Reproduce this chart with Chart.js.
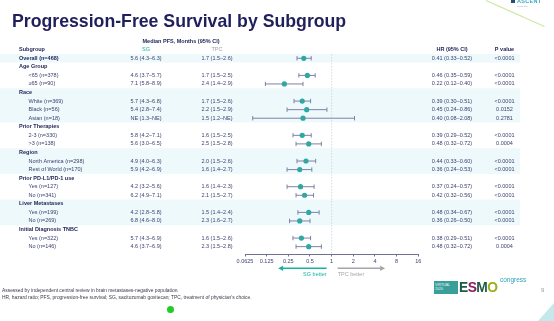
<!DOCTYPE html>
<html>
<head>
<meta charset="utf-8">
<script src="https://cdn.jsdelivr.net/npm/chart.js@4.4.1/dist/chart.umd.min.js"></script>
<style>
  html, body { margin: 0; padding: 0; background: #fff; }
  body { width: 554px; height: 321px; position: relative; overflow: hidden; font-family: "Liberation Sans", Arial, sans-serif; }
  #chart { position: absolute; left: 0; top: 0; }
  .title { position: absolute; left: 12px; top: 11.5px; font-size: 17.7px; line-height: 18px; font-weight: bold; color: #1f1f5c; white-space: nowrap; }
  .foot { position: absolute; left: 2px; font-size: 4.9px; line-height: 6px; color: #3a3a4a; white-space: nowrap; }
  .pagenum { position: absolute; left: 541px; top: 287px; font-size: 6px; color: #9a9a9a; }
  .corner { position: absolute; left: 538px; top: 303px; width: 16px; height: 18px; background: #c5e8ec; clip-path: polygon(100% 0, 100% 100%, 0 100%); }
  .dot { position: absolute; left: 166.5px; top: 305.5px; width: 7px; height: 7px; border-radius: 50%; background: #22cc22; }
  .esmo { position: absolute; left: 434px; top: 280px; height: 14px; }
  .esmo .virt { position: absolute; left: 0; top: 1px; width: 24px; height: 13px; background: #3a9e9a; color: #e8f6f4; font-size: 3.6px; line-height: 4px; padding: 2px 1px; box-sizing: border-box; }
  .esmo .word { position: absolute; left: 25px; top: -1px; font-size: 15px; line-height: 16px; font-weight: bold; letter-spacing: -0.6px; transform: scaleX(0.92); transform-origin: left; white-space: nowrap; }
  .esmo .cong { position: absolute; left: 66px; top: -4px; font-size: 6.5px; color: #2fa3b6; white-space: nowrap; }
  .ascent { position: absolute; left: 517px; top: -2px; font-size: 5.5px; font-weight: bold; color: #3aa6ba; letter-spacing: 0.3px; }
  .ascent-sub { position: absolute; left: 517px; top: 5px; font-size: 2.2px; color: #9aa; }
  .ascent-mark { position: absolute; left: 511px; top: 0; width: 4px; height: 3px; background: #1f4f7a; }
  .swoosh { position: absolute; left: 486px; top: 0; width: 64px; height: 1px; background: #c9e6a0; transform: rotate(24deg); transform-origin: left; }
</style>
</head>
<body>
<canvas id="chart" width="554" height="321"></canvas>
<div class="title">Progression-Free Survival by Subgroup</div>
<div class="foot" style="top:288px">Assessed by independent central review in brain metastases-negative population.</div>
<div class="foot" style="top:295px">HR, hazard ratio; PFS, progression-free survival; SG, sacituzumab govitecan; TPC, treatment of physician’s choice.</div>
<div class="pagenum">9</div>
<div class="corner"></div>
<div class="dot"></div>
<div class="swoosh"></div>
<div class="ascent-mark"></div>
<div class="ascent">ASCENT</div>
<div class="ascent-sub">clinical trial</div>
<div class="esmo">
  <div class="virt">VIRTUAL<br>2020</div>
  <div class="word"><span style="color:#1e5b45">E</span><span style="color:#8c1d5e">S</span><span style="color:#1e5b45">M</span><span style="color:#9fae1e">O</span></div>
  <div class="cong">congress</div>
</div>
<script>
// ---- data ----
const rowLabels = [
  'Overall (n=468)', 'Age Group', '<65 (n=378)', '≥65 (n=90)',
  'Race', 'White (n=369)', 'Black (n=56)', 'Asian (n=18)',
  'Prior Therapies', '2-3 (n=330)', '>3 (n=138)',
  'Region', 'North America (n=298)', 'Rest of World (n=170)',
  'Prior PD-L1/PD-1 use', 'Yes (n=127)', 'No (n=341)',
  'Liver Metastases', 'Yes (n=199)', 'No (n=269)',
  'Initial Diagnosis TNBC', 'Yes (n=322)', 'No (n=146)'
];
const rowKind = ['total', 'group', 'sub', 'sub', 'group', 'sub', 'sub', 'sub', 'group', 'sub', 'sub',
  'group', 'sub', 'sub', 'group', 'sub', 'sub', 'group', 'sub', 'sub', 'group', 'sub', 'sub'];

const sgMedian = ['5.6 (4.3–6.3)', '', '4.6 (3.7–5.7)', '7.1 (5.8–8.9)', '', '5.7 (4.3–6.8)', '5.4 (2.8–7.4)', 'NE (1.3–NE)',
  '', '5.8 (4.2–7.1)', '5.6 (3.0–6.5)', '', '4.9 (4.0–6.3)', '5.9 (4.2–6.9)', '', '4.2 (3.2–5.6)', '6.2 (4.9–7.1)',
  '', '4.2 (2.8–5.8)', '6.8 (4.6–8.0)', '', '5.7 (4.3–6.9)', '4.6 (3.7–6.9)'];
const tpcMedian = ['1.7 (1.5–2.6)', '', '1.7 (1.5–2.5)', '2.4 (1.4–2.9)', '', '1.7 (1.5–2.6)', '2.2 (1.5–2.9)', '1.5 (1.2–NE)',
  '', '1.6 (1.5–2.5)', '2.5 (1.5–2.8)', '', '2.0 (1.5–2.6)', '1.6 (1.4–2.7)', '', '1.6 (1.4–2.3)', '2.1 (1.5–2.7)',
  '', '1.5 (1.4–2.4)', '2.3 (1.6–2.7)', '', '1.6 (1.5–2.6)', '2.3 (1.5–2.8)'];

const hr     = [0.41, null, 0.46, 0.22, null, 0.39, 0.45, 0.40, null, 0.39, 0.48, null, 0.44, 0.36, null, 0.37, 0.42, null, 0.48, 0.36, null, 0.38, 0.48];
const hrLow  = [0.33, null, 0.35, 0.12, null, 0.30, 0.24, 0.08, null, 0.29, 0.32, null, 0.33, 0.24, null, 0.24, 0.32, null, 0.34, 0.26, null, 0.29, 0.32];
const hrHigh = [0.52, null, 0.59, 0.40, null, 0.51, 0.86, 2.08, null, 0.52, 0.72, null, 0.60, 0.53, null, 0.57, 0.56, null, 0.67, 0.50, null, 0.51, 0.72];
const pValues = ['<0.0001', '', '<0.0001', '<0.0001', '', '<0.0001', '0.0152', '0.2781', '', '<0.0001', '0.0004',
  '', '<0.0001', '<0.0001', '', '<0.0001', '<0.0001', '', '<0.0001', '<0.0001', '', '<0.0001', '0.0004'];

const xTicks = [0.0625, 0.125, 0.25, 0.5, 1, 2, 4, 8, 16];
const shadedRows = [[0, 0], [4, 7], [11, 13], [17, 19]];

// ---- colours ----
const TEAL = '#18b3a4';
const BAR = '#7d83a3';
const NAVY = '#24285a';
const BODY = '#3d4270';
const FONT = '"Liberation Sans", Arial, sans-serif';

// ---- datasets ----
const ciSets = [];
hr.forEach((v, i) => {
  if (v === null) return;
  ciSets.push({
    data: [{ x: hrLow[i], y: i }, { x: hrHigh[i], y: i }],
    showLine: true,
    borderColor: BAR,
    borderWidth: 1,
    pointStyle: 'line',
    rotation: 90,
    pointRadius: 2.2,
    pointBorderColor: BAR,
    pointBorderWidth: 1,
    pointHoverRadius: 2.2
  });
});
const pointSet = {
  data: hr.map((v, i) => v === null ? null : { x: v, y: i }).filter(p => p),
  pointRadius: 2.6,
  pointBackgroundColor: TEAL,
  pointBorderWidth: 0,
  showLine: false
};

// ---- table / decorations plugin ----
const forestTable = {
  id: 'forestTable',
  beforeDatasetsDraw(chart) {
    const { ctx, scales: { x, y }, chartArea } = chart;
    ctx.save();
    // group stripes
    ctx.fillStyle = '#eef9fc';
    shadedRows.forEach(([a, b]) => {
      const top = y.getPixelForValue(a - 0.5);
      const bot = y.getPixelForValue(b + 0.5);
      ctx.fillRect(0, top, 520, bot - top);
    });
    // line of no effect
    const x1 = x.getPixelForValue(1);
    ctx.strokeStyle = '#cfd2dc';
    ctx.lineWidth = 0.8;
    ctx.setLineDash([1.5, 1.5]);
    ctx.beginPath();
    ctx.moveTo(x1, chartArea.top);
    ctx.lineTo(x1, chartArea.bottom);
    ctx.stroke();
    ctx.restore();
  },
  afterDraw(chart) {
    const { ctx, scales: { x, y } } = chart;
    ctx.save();
    ctx.textBaseline = 'middle';

    // column headers
    const yHead = y.getPixelForValue(-1);
    ctx.font = 'bold 5.5px ' + FONT;
    ctx.fillStyle = NAVY;
    ctx.textAlign = 'center';
    ctx.fillText('Median PFS, Months (95% CI)', 181, y.getPixelForValue(-2));
    ctx.textAlign = 'left';
    ctx.fillText('Subgroup', 19, yHead);
    ctx.textAlign = 'center';
    ctx.fillText('HR (95% CI)', 452, yHead);
    ctx.fillText('P value', 504.5, yHead);
    ctx.font = '5.5px ' + FONT;
    ctx.fillStyle = TEAL;
    ctx.fillText('SG', 146, yHead);
    ctx.fillStyle = '#a3a3a8';
    ctx.fillText('TPC', 217, yHead);

    // rows
    rowLabels.forEach((label, i) => {
      const py = y.getPixelForValue(i);
      const bold = rowKind[i] !== 'sub';
      ctx.textAlign = 'left';
      ctx.font = (bold ? 'bold ' : '') + '5.5px ' + FONT;
      ctx.fillStyle = bold ? NAVY : BODY;
      ctx.fillText(label, bold ? 19 : 28.5, py);

      ctx.font = '5.5px ' + FONT;
      ctx.fillStyle = BODY;
      ctx.textAlign = 'center';
      if (sgMedian[i]) ctx.fillText(sgMedian[i], 146, py);
      if (tpcMedian[i]) ctx.fillText(tpcMedian[i], 217, py);
      if (hr[i] !== null) {
        ctx.fillText(hr[i].toFixed(2) + ' (' + hrLow[i].toFixed(2) + '–' + hrHigh[i].toFixed(2) + ')', 452, py);
      }
      if (pValues[i]) ctx.fillText(pValues[i], 504.5, py);
    });

    // direction arrows
    const x1 = x.getPixelForValue(1);
    const ay = 268.3;
    const arrow = (from, to, color) => {
      const dir = Math.sign(to - from);
      ctx.strokeStyle = color;
      ctx.fillStyle = color;
      ctx.lineWidth = 1.6;
      ctx.beginPath();
      ctx.moveTo(from, ay);
      ctx.lineTo(to - dir * 4, ay);
      ctx.stroke();
      ctx.beginPath();
      ctx.moveTo(to, ay);
      ctx.lineTo(to - dir * 5, ay - 2.6);
      ctx.lineTo(to - dir * 5, ay + 2.6);
      ctx.closePath();
      ctx.fill();
    };
    arrow(x1 - 5, x1 - 53.5, TEAL);
    arrow(x1 + 6, x1 + 53.5, '#a6a6a6');
    ctx.font = '5.5px ' + FONT;
    ctx.textAlign = 'right';
    ctx.fillStyle = TEAL;
    ctx.fillText('SG better', x1 - 5, 274.5);
    ctx.textAlign = 'left';
    ctx.fillStyle = '#a6a6a6';
    ctx.fillText('TPC better', x1 + 6, 274.5);
    ctx.restore();
  }
};

// ---- chart ----
const ctx = document.getElementById('chart').getContext('2d');
new Chart(ctx, {
  type: 'scatter',
  data: { datasets: [...ciSets, pointSet] },
  options: {
    responsive: false,
    animation: false,
    devicePixelRatio: 1,
    layout: { padding: { left: 245, right: 135.7, top: 54, bottom: 53 } },
    plugins: { legend: { display: false }, tooltip: { enabled: false } },
    scales: {
      x: {
        type: 'logarithmic',
        position: 'bottom',
        min: 0.0625,
        max: 16,
        afterBuildTicks: (s) => { s.ticks = xTicks.map(v => ({ value: v })); },
        afterFit: (s) => { s.height = 14; },
        grid: { drawOnChartArea: false, drawTicks: true, tickLength: 2.5, color: '#6d7090' },
        border: { display: true, color: '#6d7090', width: 1 },
        ticks: {
          autoSkip: false,
          maxRotation: 0,
          padding: 1.5,
          color: '#3d4270',
          font: { size: 5.5, family: FONT },
          callback: (v) => String(v)
        }
      },
      y: {
        type: 'linear',
        display: false,
        reverse: true,
        min: -0.5,
        max: 22.86
      }
    }
  },
  plugins: [forestTable]
});
</script>
</body>
</html>
